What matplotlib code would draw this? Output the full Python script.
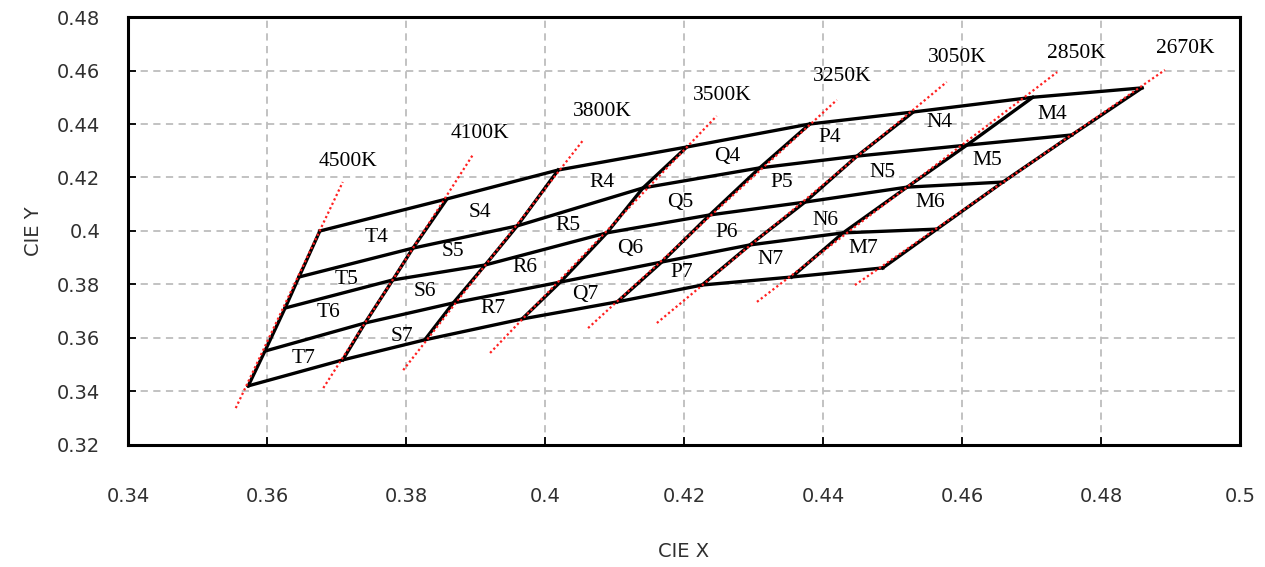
import matplotlib
matplotlib.use('Agg')
import matplotlib.pyplot as plt

# isotherm names (left to right)
cct_names = ['4500K', '4100K', '3800K', '3500K', '3250K', '3050K', '2850K', '2670K']

# crossing points of every isotherm with the 5 bin curves (bottom -> top)
iso_x = [
    [0.3573, 0.3597, 0.3626, 0.3646, 0.3676],
    [0.3709, 0.3741, 0.3781, 0.3810, 0.3859],
    [0.3827, 0.3868, 0.3914, 0.3960, 0.4019],
    [0.3967, 0.4022, 0.4089, 0.4141, 0.4204],
    [0.4104, 0.4168, 0.4237, 0.4309, 0.4381],
    [0.4226, 0.4295, 0.4374, 0.4449, 0.4530],
    [0.4355, 0.4429, 0.4521, 0.4607, 0.4702],
    [0.4486, 0.4564, 0.4659, 0.4758, 0.4859],
]
iso_y = [
    [0.3421, 0.3551, 0.3712, 0.3828, 0.4000],
    [0.3518, 0.3656, 0.3817, 0.3936, 0.4120],
    [0.3593, 0.3731, 0.3873, 0.4019, 0.4228],
    [0.3671, 0.3809, 0.3993, 0.4161, 0.4314],
    [0.3735, 0.3884, 0.4060, 0.4236, 0.4400],
    [0.3798, 0.3948, 0.4108, 0.4280, 0.4445],
    [0.3828, 0.3993, 0.4164, 0.4321, 0.4500],
    [0.3862, 0.4007, 0.4183, 0.4359, 0.4535],
]

# ends of the red dotted isotherm lines
ext_lo_x = [0.3555, 0.3681, 0.3796, 0.3921, 0.4062, 0.4161, 0.4305, 0.4446]
ext_lo_y = [0.3338, 0.3413, 0.3480, 0.3544, 0.3637, 0.3656, 0.3735, 0.3798]
ext_hi_x = [0.3709, 0.3896, 0.4055, 0.4247, 0.4420, 0.4578, 0.4737, 0.4892]
ext_hi_y = [0.4183, 0.4284, 0.4340, 0.4430, 0.4490, 0.4557, 0.4594, 0.4602]

# where the CCT names are written
cct_lab_x = [0.3717, 0.3906, 0.4082, 0.4255, 0.4427, 0.4593, 0.4765, 0.4921]
cct_lab_y = [0.4258, 0.4363, 0.4445, 0.4508, 0.4576, 0.4650, 0.4665, 0.4684]

# bin names and their centres
bin_names = ['T4', 'T5', 'T6', 'T7', 'S4', 'S5', 'S6', 'S7',
             'R4', 'R5', 'R6', 'R7', 'Q4', 'Q5', 'Q6', 'Q7',
             'P4', 'P5', 'P6', 'P7', 'N4', 'N5', 'N6', 'N7',
             'M4', 'M5', 'M6', 'M7']
bin_x = [0.3758, 0.3715, 0.3688, 0.3652, 0.3906, 0.3868, 0.3827, 0.3794,
         0.4082, 0.4033, 0.3971, 0.3925, 0.4262, 0.4194, 0.4122, 0.4058,
         0.4410, 0.4341, 0.4262, 0.4197, 0.4568, 0.4486, 0.4403, 0.4324,
         0.4730, 0.4637, 0.4554, 0.4458]
bin_y = [0.3974, 0.3817, 0.3694, 0.3525, 0.4071, 0.3922, 0.3772, 0.3604,
         0.4183, 0.4022, 0.3862, 0.3712, 0.4277, 0.4105, 0.3936, 0.3761,
         0.4348, 0.4183, 0.3996, 0.3843, 0.4404, 0.4217, 0.4041, 0.3892,
         0.4434, 0.4265, 0.4105, 0.3936]

fig = plt.figure(figsize=(12.65, 5.67), dpi=100)
ax = fig.add_axes([0.1012, 0.2152, 0.8790, 0.7548])

tick_font = 'DejaVu Sans'
lab_font = 'Liberation Serif'

# grid
ax.set_axisbelow(True)
ax.grid(True, color='#bdbdbd', linestyle=(0, (4, 3)), linewidth=1.3)

# bin curves (rows) through the crossing points
for j in range(5):
    ax.plot([iso_x[i][j] for i in range(len(cct_names))],
            [iso_y[i][j] for i in range(len(cct_names))],
            color='black', lw=2.4, solid_joinstyle='miter', zorder=3)

# isotherms: black inside the grid, red dotted over their whole length
for i in range(len(cct_names)):
    ax.plot(iso_x[i], iso_y[i], color='black', lw=2.4, zorder=3)
    ax.plot([ext_lo_x[i], ext_hi_x[i]], [ext_lo_y[i], ext_hi_y[i]],
            color='#ff2020', lw=1.6, linestyle=(0, (1, 1.2)), zorder=4)
    ax.text(cct_lab_x[i], cct_lab_y[i], cct_names[i], ha='center', va='center',
            fontsize=15.5, family=lab_font, color='black', zorder=5)

for name, x, y in zip(bin_names, bin_x, bin_y):
    ax.text(x, y, name, ha='center', va='center', fontsize=15.5,
            family=lab_font, color='black', zorder=5)

ax.set_xlim(0.34, 0.5)
ax.set_ylim(0.32, 0.48)
xt = [0.34, 0.36, 0.38, 0.40, 0.42, 0.44, 0.46, 0.48, 0.50]
yt = [0.32, 0.34, 0.36, 0.38, 0.40, 0.42, 0.44, 0.46, 0.48]
ax.set_xticks(xt)
ax.set_yticks(yt)
ax.set_xticklabels(['%g' % v for v in xt], family=tick_font, fontsize=14, color='#303030')
ax.set_yticklabels(['%g' % v for v in yt], family=tick_font, fontsize=14, color='#303030')
ax.tick_params(axis='x', direction='in', length=6, width=1.3, pad=30)
ax.tick_params(axis='y', direction='in', length=6, width=1.3, pad=20)

for s in ax.spines.values():
    s.set_linewidth(2.2)
    s.set_color('black')

ax.set_xlabel('CIE X', family=tick_font, fontsize=14, color='#303030', labelpad=26)
ax.set_ylabel('CIE Y', family=tick_font, fontsize=14, color='#303030', labelpad=10)

plt.savefig('out.png', dpi=100)
